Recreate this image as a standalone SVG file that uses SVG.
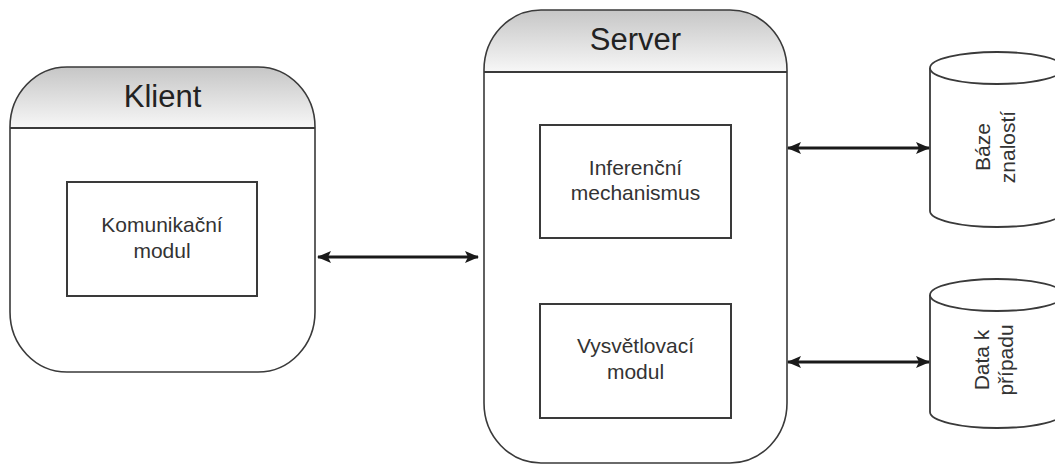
<svg xmlns="http://www.w3.org/2000/svg" width="1055" height="466" viewBox="0 0 1055 466">
  <defs>
    <linearGradient id="hdr" x1="0" y1="0" x2="0" y2="1">
      <stop offset="0" stop-color="#c6c6c6"/>
      <stop offset="1" stop-color="#f7f7f7"/>
    </linearGradient>
    <marker id="head" viewBox="0 0 14 12" refX="13" refY="6" markerWidth="14" markerHeight="12" markerUnits="userSpaceOnUse" orient="auto-start-reverse">
      <path d="M0,0 L14,6 L0,12 L3,6 Z" fill="#1a1a1a"/>
    </marker>
    <style>
      .frame { fill: none; stroke: #3a3a3a; stroke-width: 1.6; }
      .header { fill: url(#hdr); stroke: none; }
      .sep { stroke: #3a3a3a; stroke-width: 2; }
      .box { fill: #ffffff; stroke: #3a3a3a; stroke-width: 2; }
      .cyl { fill: #ffffff; stroke: #3a3a3a; stroke-width: 1.8; }
      .link { stroke: #1a1a1a; stroke-width: 3; fill: none; marker-start: url(#head); marker-end: url(#head); }
    </style>
  </defs>
  <rect width="1055" height="466" fill="#ffffff"/>

  <!-- Client container -->
  <g id="klient">
    <path class="header" d="M10,128 V127 A57,60 0 0 1 67,67 H258 A57,60 0 0 1 315,127 V128 Z"/>
    <rect class="frame" x="10" y="67" width="305" height="305" rx="57" ry="60"/>
    <line class="sep" x1="10" y1="128" x2="315" y2="128"/>
    <text x="162.5" y="107" font-family="Arial, 'Liberation Sans', sans-serif" font-size="31" fill="#222222" text-anchor="middle">Klient</text>
  </g>
  <g id="komunikacni-modul" font-family="Arial, 'Liberation Sans', sans-serif" font-size="21" fill="#333333" text-anchor="middle">
    <rect class="box" x="67" y="182" width="190" height="114"/>
    <text x="162" y="232">Komunikační</text>
    <text x="162" y="258">modul</text>
  </g>

  <!-- Server container -->
  <g id="server">
    <path class="header" d="M484,72 V70 A57,60 0 0 1 541,10 H730 A57,60 0 0 1 787,70 V72 Z"/>
    <rect class="frame" x="484" y="10" width="303" height="453" rx="57" ry="60"/>
    <line class="sep" x1="484" y1="72" x2="787" y2="72"/>
    <text x="635.5" y="50" font-family="Arial, 'Liberation Sans', sans-serif" font-size="31" fill="#222222" text-anchor="middle">Server</text>
  </g>
  <g id="inferencni-mechanismus" font-family="Arial, 'Liberation Sans', sans-serif" font-size="21" fill="#333333" text-anchor="middle">
    <rect class="box" x="540" y="125" width="191" height="113"/>
    <text x="635.5" y="175">Inferenční</text>
    <text x="635.5" y="200">mechanismus</text>
  </g>
  <g id="vysvetlovaci-modul" font-family="Arial, 'Liberation Sans', sans-serif" font-size="21" fill="#333333" text-anchor="middle">
    <rect class="box" x="540" y="304" width="191" height="114"/>
    <text x="635.5" y="353">Vysvětlovací</text>
    <text x="635.5" y="379">modul</text>
  </g>

  <!-- Data stores -->
  <g id="baze-znalosti" font-family="Arial, 'Liberation Sans', sans-serif" font-size="21" fill="#333333" text-anchor="middle">
    <path class="cyl" d="M930,68 A67,16 0 0 1 1064,68 V211 A67,16 0 0 1 930,211 Z"/>
    <path class="cyl" fill="none" d="M930,68 A67,16 0 0 0 1064,68"/>
    <text transform="translate(990,147) rotate(-90)">Báze</text>
    <text transform="translate(1015,147) rotate(-90)">znalostí</text>
  </g>
  <g id="data-k-pripadu" font-family="Arial, 'Liberation Sans', sans-serif" font-size="21" fill="#333333" text-anchor="middle">
    <path class="cyl" d="M930,295 A67,16 0 0 1 1064,295 V412 A67,16 0 0 1 930,412 Z"/>
    <path class="cyl" fill="none" d="M930,295 A67,16 0 0 0 1064,295"/>
    <text transform="translate(989,360) rotate(-90)">Data k</text>
    <text transform="translate(1013,360) rotate(-90)">případu</text>
  </g>

  <!-- Connectors -->
  <g id="connectors">
    <line class="link" x1="318" y1="257" x2="478" y2="257"/>
    <line class="link" x1="788" y1="148" x2="929" y2="148"/>
    <line class="link" x1="788" y1="362" x2="929" y2="362"/>
  </g>
</svg>
